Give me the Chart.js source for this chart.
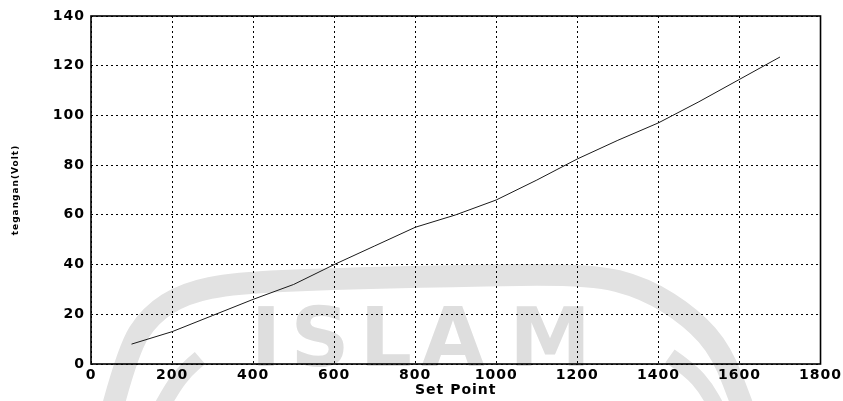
<!DOCTYPE html>
<html>
<head>
<meta charset="utf-8">
<script src="https://cdn.jsdelivr.net/npm/chart.js@4/dist/chart.umd.min.js"></script>
<style>
html,body{margin:0;padding:0;background:#fff;}
#wrap{width:843px;height:401px;position:relative;}
</style>
</head>
<body>
<div id="wrap"><canvas id="c" width="843" height="401"></canvas></div>
<script>
const setPoints = [100, 200, 300, 400, 500, 600, 700, 800, 900, 1000, 1100, 1200, 1300, 1400, 1500, 1600, 1700];
const voltage   = [8, 13, 19.5, 26, 32, 40, 47.5, 55, 60, 66, 74, 82.5, 90, 97, 105.5, 114.5, 123.5];
const xTicks = [0, 200, 400, 600, 800, 1000, 1200, 1400, 1600, 1800];
const yTicks = [0, 20, 40, 60, 80, 100, 120, 140];
const xTitle = 'Set Point';
const yTitle = 'tegangan(Volt)';
const watermarkLetters = ['I', 'S', 'L', 'A', 'M'];

const points = setPoints.map((x, i) => ({x: x, y: voltage[i]}));

function smoothPath(ctx, pts) {
  ctx.beginPath();
  ctx.moveTo(pts[0][0], pts[0][1]);
  for (let i = 1; i < pts.length - 1; i++) {
    const mx = (pts[i][0] + pts[i + 1][0]) / 2;
    const my = (pts[i][1] + pts[i + 1][1]) / 2;
    ctx.quadraticCurveTo(pts[i][0], pts[i][1], mx, my);
  }
  const l = pts[pts.length - 1];
  ctx.lineTo(l[0], l[1]);
  ctx.stroke();
}

const decor = {
  id: 'decor',
  beforeDraw(chart) {
    const ctx = chart.ctx;
    ctx.save();
    ctx.strokeStyle = '#e2e2e2';
    ctx.lineCap = 'butt';
    ctx.lineJoin = 'round';
    ctx.lineWidth = 22;
    smoothPath(ctx, [[112, 410], [128, 350], [150, 315], [185, 293], [235, 283], [330, 279], [450, 276], [590, 274], [645, 288], [692, 318], [722, 352], [744, 410]]);
    ctx.lineWidth = 16;
    smoothPath(ctx, [[160, 410], [172, 388], [186, 370], [200, 358]]);
    smoothPath(ctx, [[670, 356], [690, 370], [706, 388], [718, 410]]);
    ctx.fillStyle = '#dedede';
    ctx.font = 'bold 82px "DejaVu Sans", sans-serif';
    ctx.textAlign = 'center';
    ctx.textBaseline = 'alphabetic';
    const cx = [266, 320, 386, 453, 550];
    watermarkLetters.forEach((ch, i) => ctx.fillText(ch, cx[i], 366));
    ctx.restore();
    ctx.letterSpacing = '1px';
  },
  beforeDatasetsDraw(chart) {
    chart.ctx.letterSpacing = '0px';
  },
  afterDraw(chart) {
    const ctx = chart.ctx;
    const a = chart.chartArea;
    ctx.save();
    ctx.strokeStyle = '#000';
    ctx.lineWidth = 1.6;
    ctx.strokeRect(a.left, a.top, a.right - a.left, a.bottom - a.top);
    ctx.restore();
  }
};

new Chart(document.getElementById('c'), {
  type: 'line',
  data: {
    datasets: [{
      data: points,
      borderColor: '#1a1a1a',
      borderWidth: 1,
      pointRadius: 0,
      tension: 0,
      fill: false
    }]
  },
  options: {
    responsive: false,
    animation: false,
    layout: {padding: {left: 10, right: 22, top: 16, bottom: 2}},
    plugins: {legend: {display: false}, tooltip: {enabled: false}},
    scales: {
      x: {
        type: 'linear',
        min: 0, max: 1800,
        afterBuildTicks(scale) { scale.ticks = xTicks.map(v => ({value: v})); },
        afterFit(scale) { scale.height = 35; },
        grid: {color: '#000', lineWidth: 1, tickLength: 0, drawTicks: false},
        border: {display: false, dash: [2, 3]},
        ticks: {
          color: '#000',
          padding: 3,
          maxRotation: 0,
          autoSkip: false,
          callback: v => String(v),
          font: {family: '"DejaVu Sans", sans-serif', size: 14, weight: 'bold'}
        },
        title: {
          display: true,
          text: xTitle,
          color: '#000',
          padding: {top: 0, bottom: 0},
          font: {family: '"DejaVu Sans", sans-serif', size: 14, weight: 'bold'}
        }
      },
      y: {
        min: 0, max: 140,
        afterBuildTicks(scale) { scale.ticks = yTicks.map(v => ({value: v})); },
        afterFit(scale) { scale.width = 81; },
        grid: {color: '#000', lineWidth: 1, tickLength: 0, drawTicks: false},
        border: {display: false, dash: [2, 3]},
        ticks: {
          color: '#000',
          padding: 6,
          autoSkip: false,
          callback: v => String(v),
          font: {family: '"DejaVu Sans", sans-serif', size: 14, weight: 'bold'}
        },
        title: {
          display: true,
          text: yTitle,
          color: '#000',
          padding: {top: 0, bottom: 22},
          font: {family: '"DejaVu Sans", sans-serif', size: 9, weight: 'bold'}
        }
      }
    }
  },
  plugins: [decor]
});
</script>
</body>
</html>
